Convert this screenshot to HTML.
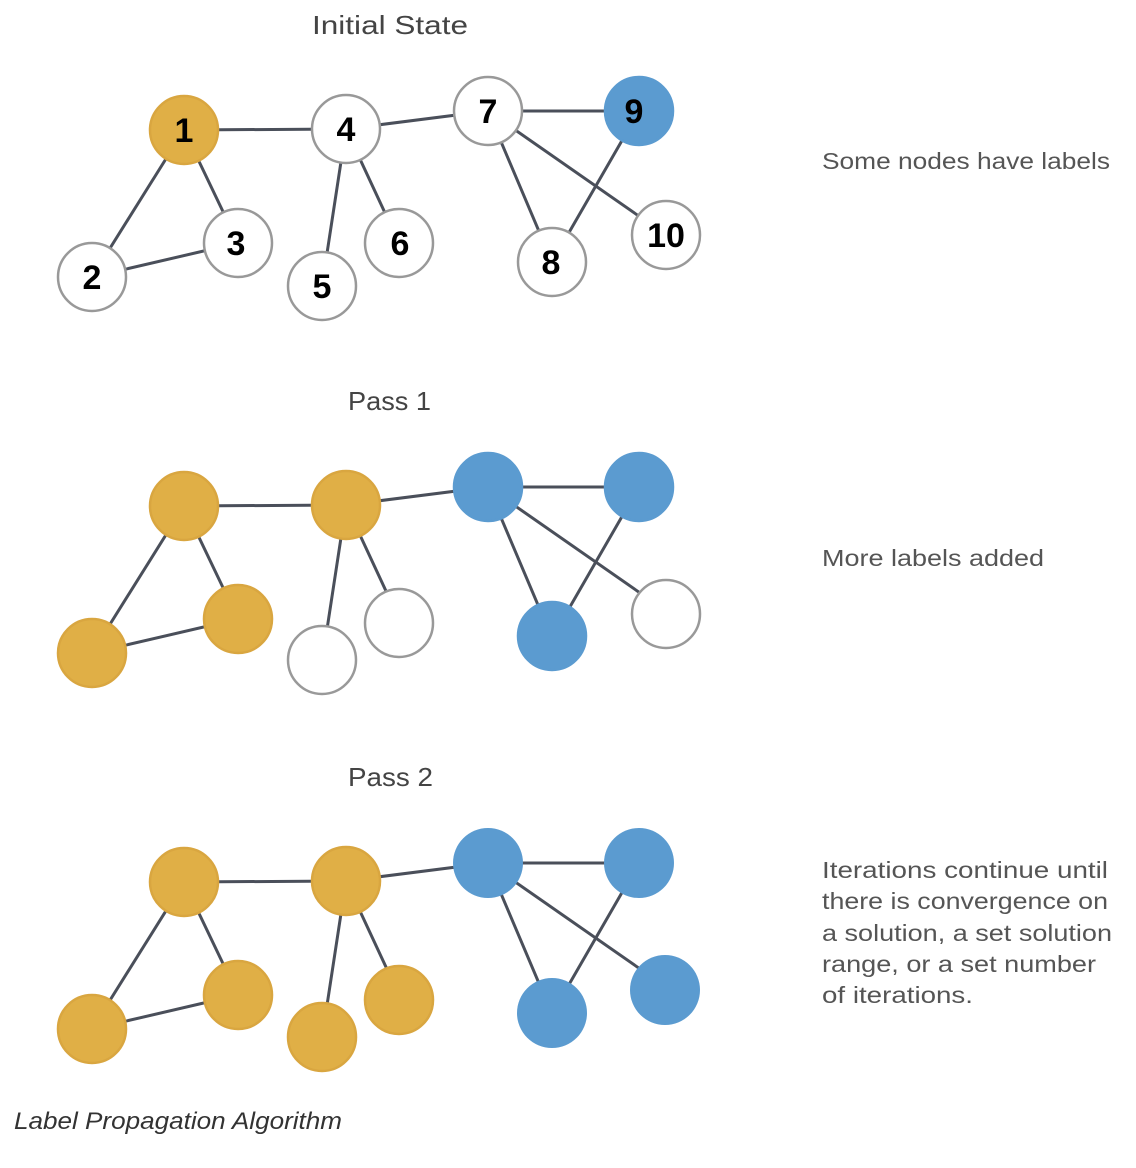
<!DOCTYPE html>
<html><head><meta charset="utf-8"><style>
html,body{margin:0;padding:0;background:#fff;}
svg{display:block;}
</style></head><body>
<svg width="1136" height="1168" viewBox="0 0 1136 1168" xmlns="http://www.w3.org/2000/svg" font-family="Liberation Sans, DejaVu Sans, sans-serif">
<defs>
<g id="edges" stroke="#4a4f5a" stroke-width="3" fill="none">
<line x1="184" y1="130" x2="346" y2="129"/>
<line x1="346" y1="129" x2="488" y2="111"/>
<line x1="488" y1="111" x2="639" y2="111"/>
<line x1="184" y1="130" x2="92" y2="277"/>
<line x1="184" y1="130" x2="238" y2="243"/>
<line x1="92" y1="277" x2="238" y2="243"/>
<line x1="346" y1="129" x2="322" y2="286"/>
<line x1="346" y1="129" x2="399" y2="243"/>
<line x1="488" y1="111" x2="552" y2="262"/>
<line x1="488" y1="111" x2="666" y2="235"/>
<line x1="639" y1="111" x2="552" y2="262"/>
</g>
</defs>
<g fill="#444" font-size="26" lengthAdjust="spacingAndGlyphs">
<text x="312" y="34" textLength="156" lengthAdjust="spacingAndGlyphs">Initial State</text>
<text x="348" y="410" textLength="83" lengthAdjust="spacingAndGlyphs">Pass 1</text>
<text x="348" y="786" textLength="85" lengthAdjust="spacingAndGlyphs">Pass 2</text>
</g>
<g fill="#555" font-size="23">
<text x="822" y="169" textLength="288" lengthAdjust="spacingAndGlyphs">Some nodes have labels</text>
<text x="822" y="566" textLength="222" lengthAdjust="spacingAndGlyphs">More labels added</text>
<text x="822" y="878" textLength="286" lengthAdjust="spacingAndGlyphs">Iterations continue until</text>
<text x="822" y="909" textLength="286" lengthAdjust="spacingAndGlyphs">there is convergence on</text>
<text x="822" y="941" textLength="290" lengthAdjust="spacingAndGlyphs">a solution, a set solution</text>
<text x="822" y="972" textLength="274" lengthAdjust="spacingAndGlyphs">range, or a set number</text>
<text x="822" y="1003" textLength="151" lengthAdjust="spacingAndGlyphs">of iterations.</text>
</g>
<text x="14" y="1129" font-size="24" font-style="italic" fill="#333" textLength="328" lengthAdjust="spacingAndGlyphs">Label Propagation Algorithm</text>

<!-- Initial -->
<use href="#edges"/>
<g stroke="#999" stroke-width="2.5">
<circle cx="184" cy="130" r="34" fill="#E0AF46" stroke="#d9a640"/>
<circle cx="346" cy="129" r="34" fill="#fff"/>
<circle cx="488" cy="111" r="34" fill="#fff"/>
<circle cx="639" cy="111" r="34" fill="#5B9BD0" stroke="#5B9BD0"/>
<circle cx="92" cy="277" r="34" fill="#fff"/>
<circle cx="238" cy="243" r="34" fill="#fff"/>
<circle cx="322" cy="286" r="34" fill="#fff"/>
<circle cx="399" cy="243" r="34" fill="#fff"/>
<circle cx="552" cy="262" r="34" fill="#fff"/>
<circle cx="666" cy="235" r="34" fill="#fff"/>
</g>
<g font-size="34" font-weight="bold" text-anchor="middle" fill="#000">
<text x="184" y="142">1</text>
<text x="346" y="141">4</text>
<text x="488" y="123">7</text>
<text x="634" y="123">9</text>
<text x="92" y="289">2</text>
<text x="236" y="255">3</text>
<text x="322" y="298">5</text>
<text x="400" y="255">6</text>
<text x="551" y="274">8</text>
<text x="666" y="247">10</text>
</g>

<!-- Pass 1 -->
<g transform="translate(0,376)">
<use href="#edges"/>
<g stroke="#999" stroke-width="2.5">
<circle cx="184" cy="130" r="34" fill="#E0AF46" stroke="#d9a640"/>
<circle cx="346" cy="129" r="34" fill="#E0AF46" stroke="#d9a640"/>
<circle cx="488" cy="111" r="34" fill="#5B9BD0" stroke="#5B9BD0"/>
<circle cx="639" cy="111" r="34" fill="#5B9BD0" stroke="#5B9BD0"/>
<circle cx="92" cy="277" r="34" fill="#E0AF46" stroke="#d9a640"/>
<circle cx="238" cy="243" r="34" fill="#E0AF46" stroke="#d9a640"/>
<circle cx="322" cy="284" r="34" fill="#fff"/>
<circle cx="399" cy="247" r="34" fill="#fff"/>
<circle cx="552" cy="260" r="34" fill="#5B9BD0" stroke="#5B9BD0"/>
<circle cx="666" cy="238" r="34" fill="#fff"/>
</g>
</g>

<!-- Pass 2 -->
<g transform="translate(0,752)">
<use href="#edges"/>
<g stroke="#d9a640" stroke-width="2.5">
<circle cx="184" cy="130" r="34" fill="#E0AF46"/>
<circle cx="346" cy="129" r="34" fill="#E0AF46"/>
<circle cx="92" cy="277" r="34" fill="#E0AF46"/>
<circle cx="238" cy="243" r="34" fill="#E0AF46"/>
<circle cx="322" cy="285" r="34" fill="#E0AF46"/>
<circle cx="399" cy="248" r="34" fill="#E0AF46"/>
</g>
<g fill="#5B9BD0">
<circle cx="488" cy="111" r="35"/>
<circle cx="639" cy="111" r="35"/>
<circle cx="552" cy="261" r="35"/>
<circle cx="665" cy="238" r="35"/>
</g>
</g>
</svg>
</body></html>
